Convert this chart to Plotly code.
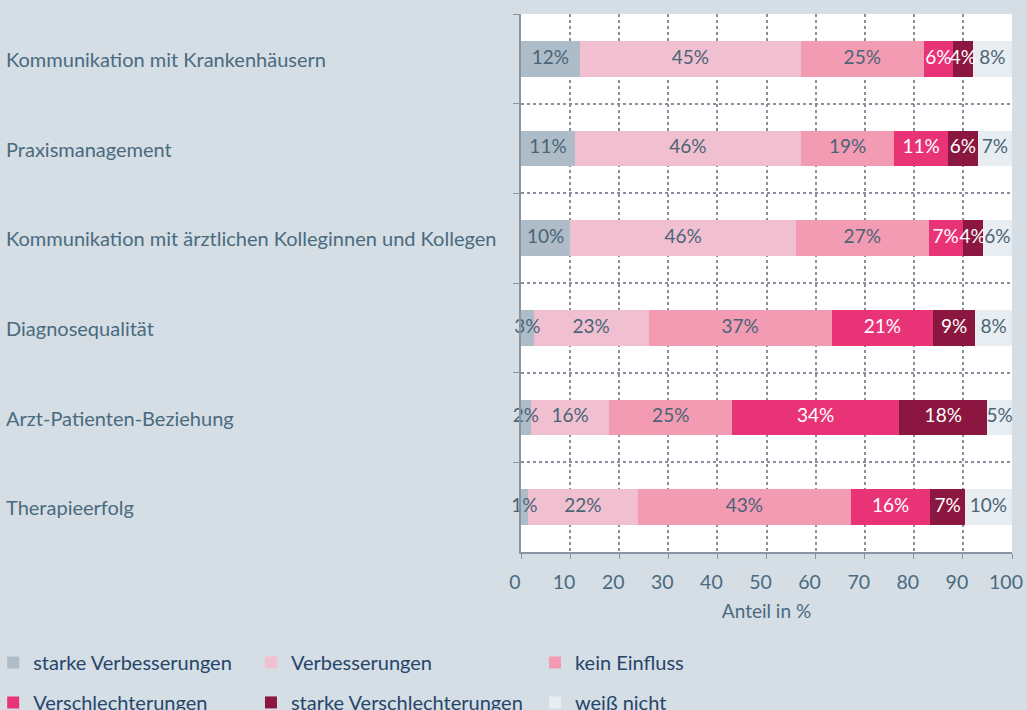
import numpy as np
import plotly.graph_objects as go

categories = [
    "Kommunikation mit Krankenhäusern",
    "Praxismanagement",
    "Kommunikation mit ärztlichen Kolleginnen und Kollegen",
    "Diagnosequalität",
    "Arzt-Patienten-Beziehung",
    "Therapieerfolg",
]
series_names = [
    "starke Verbesserungen",
    "Verbesserungen",
    "kein Einfluss",
    "Verschlechterungen",
    "starke Verschlechterungen",
    "weiß nicht",
]
starke_verbesserungen = [12, 11, 10, 2.6, 2, 1.4]
verbesserungen = [45, 46, 46, 23.4, 16, 22.4]
kein_einfluss = [25, 19, 27, 37.3, 25, 43.4]
verschlechterungen = [6, 11, 7, 20.6, 34, 16.2]
starke_verschlechterungen = [4, 6, 4, 8.6, 18, 7.0]
weiss_nicht = [8, 7, 6, 7.5, 5, 9.6]
x_ticks = [0, 10, 20, 30, 40, 50, 60, 70, 80, 90, 100]

series_values = [starke_verbesserungen, verbesserungen, kein_einfluss,
                 verschlechterungen, starke_verschlechterungen, weiss_nicht]
colors = ["#adbcc7", "#f1c0d0", "#f29bb3", "#e83377", "#8b1740", "#e8edf1"]
text_colors = ["#4a6477", "#4a6477", "#4a6477", "#ffffff", "#ffffff", "#4a6477"]
legend_ids = ["legend", "legend2", "legend3", "legend", "legend2", "legend3"]

FONT = "Lato"
BG = "#d4dee4"
AXIS = "#8a95a3"
LABEL = "#4a6a80"

fig = go.Figure()
for i, (name, vals) in enumerate(zip(series_names, series_values)):
    fig.add_trace(go.Bar(
        y=categories, x=vals, name=name, orientation="h",
        marker=dict(color=colors[i], line=dict(width=0)),
        legend=legend_ids[i], legendgroup=name,
        hoverinfo="skip",
    ))

# value labels drawn on top of all bars, centred on each segment
arr = np.array(series_values, dtype=float)
ends = np.cumsum(arr, axis=0)
mids = ends - arr / 2
for i, vals in enumerate(series_values):
    fig.add_trace(go.Scatter(
        y=categories, x=mids[i], mode="text",
        text=[f"{v:.0f}%" for v in vals], textposition="middle center",
        textfont=dict(family=FONT, size=19, color=text_colors[i]),
        showlegend=False, hoverinfo="skip", cliponaxis=False,
    ))

for c in categories:
    fig.add_annotation(
        x=-1.053, xref="paper", xanchor="left",
        y=c, yref="y", yanchor="middle",
        text=c, showarrow=False,
        font=dict(family=FONT, size=20, color=LABEL),
    )

legend_common = dict(
    orientation="v", xanchor="left", yanchor="top",
    bgcolor="rgba(0,0,0,0)",
    font=dict(family=FONT, size=20, color="#27456b"),
    tracegroupgap=11, itemclick=False, itemdoubleclick=False,
)
fig.update_layout(
    width=1027, height=710,
    paper_bgcolor=BG, plot_bgcolor="#ffffff",
    margin=dict(l=521, r=15, t=14, b=158, autoexpand=False),
    barmode="stack", bargap=0.6,
    showlegend=True,
    legend=dict(x=-1.075, y=-0.169, **legend_common),
    legend2=dict(x=-0.55, y=-0.169, **legend_common),
    legend3=dict(x=0.0285, y=-0.169, **legend_common),
    xaxis=dict(
        range=[0, 100], tickvals=x_ticks, ticks="outside", ticklen=5,
        tickcolor=AXIS, showline=True, linecolor=AXIS, linewidth=2,
        showgrid=True, gridcolor="#8a8f9e", griddash="dot", gridwidth=1.5,
        zeroline=False, ticklabelstandoff=7, ticklabelshift=-6,
        tickfont=dict(family=FONT, size=19.5, color=LABEL),
        title=dict(text="Anteil in %", standoff=12,
                   font=dict(family=FONT, size=19, color=LABEL)),
    ),
    yaxis=dict(
        type="category", autorange="reversed", tickson="boundaries",
        showticklabels=False, ticks="outside", ticklen=6, tickcolor=AXIS,
        showline=True, linecolor=AXIS, linewidth=2,
        showgrid=True, gridcolor="#8a8f9e", griddash="dot", gridwidth=1.5,
    ),
)

fig.write_html("out.html", config={"displayModeBar": False},
               post_script="document.body.style.margin='0';")
